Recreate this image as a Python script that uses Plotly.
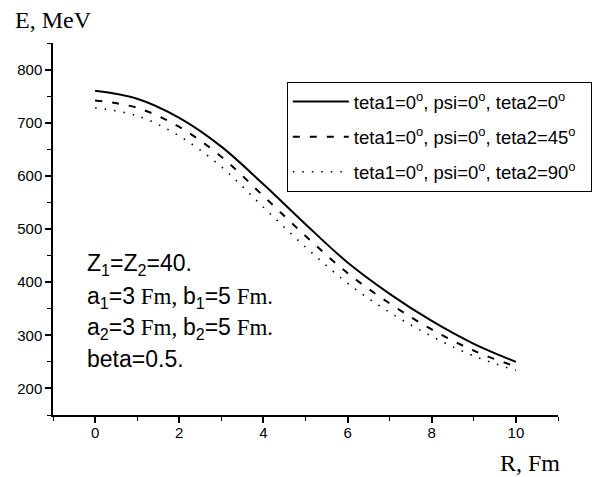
import plotly.graph_objects as go

R = [0, 1, 2, 3, 4, 5, 6, 7, 8, 9, 10]
E_teta2_0 = [760, 745, 709, 655, 584, 509, 437, 378, 327, 284, 250]
E_teta2_45 = [742, 728, 692, 636, 562, 487, 417, 360, 311, 271, 241]
E_teta2_90 = [728, 713, 675, 617, 541, 466, 398, 343, 298, 261, 234]

pad = "&nbsp;" * 2
names = [
    "teta1=0<sup>o</sup>, psi=0<sup>o</sup>, teta2=0<sup>o</sup>" + pad,
    "teta1=0<sup>o</sup>, psi=0<sup>o</sup>, teta2=45<sup>o</sup>" + pad,
    "teta1=0<sup>o</sup>, psi=0<sup>o</sup>, teta2=90<sup>o</sup>" + pad,
]

x_ticks = [0, 2, 4, 6, 8, 10]
y_ticks = [200, 300, 400, 500, 600, 700, 800]

fig = go.Figure()
styles = [("solid", 2), ("7px,10px", 2), ("1.5px,8px", 1.6)]
for i, (ys, (dash, w)) in enumerate(zip([E_teta2_0, E_teta2_45, E_teta2_90], styles)):
    fig.add_trace(go.Scatter(
        x=R, y=ys, mode="lines", name=names[i], legendgroup=f"g{i}",
        line=dict(color="black", width=w, dash=dash, shape="spline", smoothing=1.0),
    ))

axis_common = dict(
    showline=True, linecolor="black", linewidth=1.5, showgrid=False, zeroline=False,
    ticks="outside", ticklen=6, tickwidth=1.5, tickcolor="black",
    tickfont=dict(family="Arial, Liberation Sans", size=15, color="black"),
    mirror=False,
)
fig.update_xaxes(range=[-1, 11], tickvals=x_ticks, ticklabelstandoff=-3,
                 minor=dict(dtick=1, tick0=-1, ticks="outside", ticklen=4, tickcolor="black", tickwidth=1.2),
                 **axis_common)
fig.update_yaxes(range=[150, 850], tickvals=y_ticks,
                 minor=dict(dtick=50, tick0=150, ticks="outside", ticklen=4, tickcolor="black", tickwidth=1.2),
                 **axis_common)

serif = "Liberation Serif, Times New Roman, serif"
sans = "Arial, Liberation Sans, sans-serif"
anns = [
    dict(text="E, MeV", x=-0.079, y=1.062, font=dict(family=serif, size=24)),
    dict(text="R, Fm", x=0.881, y=-0.128, font=dict(family=serif, size=24)),
    dict(text="Z<sub>1</sub>=Z<sub>2</sub>=40.", x=0.063, y=0.405, font=dict(family=sans, size=23)),
    dict(text=f"a<sub>1</sub>=3<span style='font-family:{serif}'> Fm, </span>b<sub>1</sub>=5<span style='font-family:{serif}'> Fm.</span>",
         x=0.063, y=0.316, font=dict(family=sans, size=23)),
    dict(text=f"a<sub>2</sub>=3<span style='font-family:{serif}'> Fm, </span>b<sub>2</sub>=5<span style='font-family:{serif}'> Fm.</span>",
         x=0.063, y=0.233, font=dict(family=sans, size=23)),
    dict(text="beta=0.5.", x=0.063, y=0.150, font=dict(family=sans, size=23)),
]
for a in anns:
    fig.add_annotation(xref="paper", yref="paper", xanchor="left", yanchor="middle",
                       showarrow=False, font_color="black", **a)

fig.update_layout(
    width=605, height=477,
    margin=dict(l=53, r=47, t=43, b=62),
    paper_bgcolor="white", plot_bgcolor="white",
    legend=dict(x=0.463, y=0.895, xanchor="left", yanchor="top",
                bordercolor="black", borderwidth=1, bgcolor="white",
                font=dict(family=sans, size=18.5, color="black"),
                tracegroupgap=8, traceorder="grouped", itemwidth=56),
)

fig.write_html("out.html", config={"displayModeBar": False},
               post_script="document.body.style.margin='0';document.body.style.padding='0';")
